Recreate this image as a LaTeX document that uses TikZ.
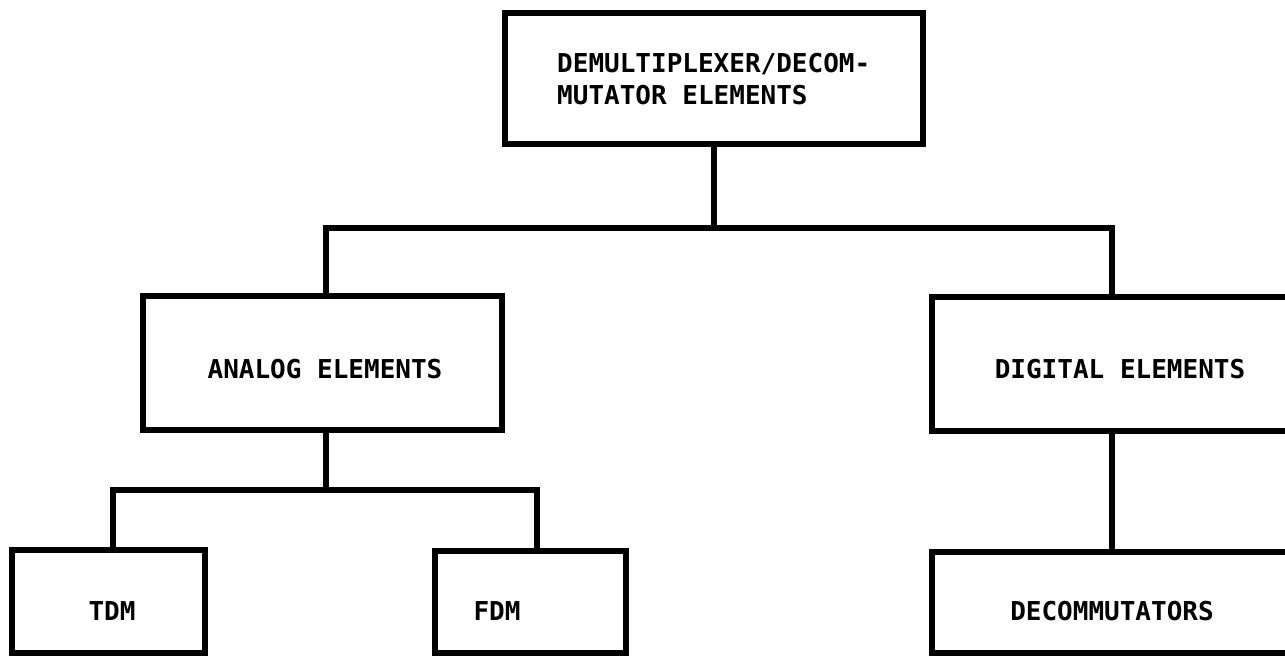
\documentclass[tikz,border=0pt]{standalone}
\usepackage{fontspec}
\newfontfamily\lettering{DejaVu Sans Mono}
\begin{document}
\begin{tikzpicture}[x=1pt,y=-1pt,
  box/.style={draw, line width=5.5pt, inner sep=0pt, outer sep=0pt, anchor=north west},
  wire/.style={line width=5.5pt},
  lbl/.style={inner sep=0pt, font=\lettering\bfseries\fontsize{26}{32}\selectfont}]
  \useasboundingbox (0,0) rectangle (1285,656);
  \fill[white] (0,0) rectangle (1285,656);
  \clip (0,0) rectangle (1285,656);

  % boxes of the tree
  \node[box, minimum width=418pt, minimum height=131pt] (top)     at (505,13)  {};
  \node[box, minimum width=359pt, minimum height=134pt] (analog)  at (143,296) {};
  \node[box, minimum width=400pt, minimum height=134pt] (digital) at (932,297) {};
  \node[box, minimum width=193pt, minimum height=103pt] (tdm)     at (12,550)  {};
  \node[box, minimum width=191pt, minimum height=102pt] (fdm)     at (435,551) {};
  \node[box, minimum width=400pt, minimum height=101pt] (decom)   at (932,552) {};

  % labels (the two-line label sits on the baseline of its last line)
  \node[lbl, anchor=base west, align=left] (toptext) at (557,104)
    {DEMULTIPLEXER/DECOM-\\MUTATOR ELEMENTS};
  \node[lbl, anchor=base] (analogtext)  at (325,378) {ANALOG ELEMENTS};
  \node[lbl, anchor=base] (digitaltext) at (1120,378) {DIGITAL ELEMENTS};
  \node[lbl, anchor=base] (tdmtext)     at (112,620) {TDM};
  \node[lbl, anchor=base] (fdmtext)     at (497,620) {FDM};
  \node[lbl, anchor=base] (decomtext)   at (1112,620) {DECOMMUTATORS};

  % branching connectors
  \coordinate (bus1) at (714,228);
  \coordinate (bus2) at (326,490);
  \draw[wire] (top.south) -- (bus1);
  \draw[wire] ([xshift=3.5pt]analog.north) |- (bus1) -| ([xshift=180pt]digital.north west);
  \draw[wire] ([xshift=3.5pt]analog.south) -- (bus2);
  \draw[wire] ([xshift=4.5pt]tdm.north) |- (bus2) -| ([xshift=6.5pt]fdm.north);
  \draw[wire] ([xshift=180pt]digital.south west) -- ([xshift=180pt]decom.north west);
\end{tikzpicture}
\end{document}
